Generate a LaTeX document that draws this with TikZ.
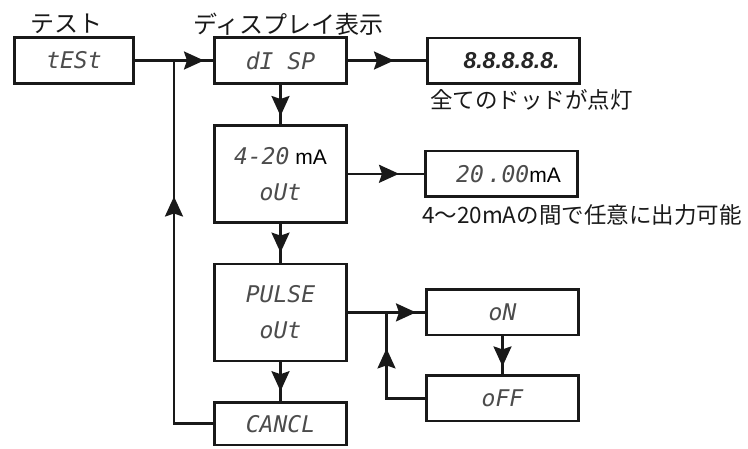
\documentclass[tikz,border=0pt]{standalone}
\usepackage{fontspec}
\newfontfamily\jpfont{Noto Sans CJK JP}
\newfontfamily\segfont{DejaVu Sans Mono}
\newfontfamily\unitfont{Liberation Sans}
\usetikzlibrary{arrows.meta,positioning,calc}

\newcommand\unitmA{{\unitfont\upshape\fontsize{21}{24}\selectfont\color{black}mA}}

\begin{document}
\begin{tikzpicture}[x=1pt, y=-1pt, node distance=39pt and 78pt,
  box/.style={rectangle, draw=black!90, line width=2.6pt, fill=white, minimum width=132.4pt, minimum height=46.4pt, inner sep=0pt, align=center, text=black!70, font=\segfont\itshape\fontsize{23}{36}\selectfont},
  wide/.style={minimum width=152.4pt, minimum height=45.4pt},
  tall/.style={minimum height=97pt},
  jptext/.style={inner sep=0pt, text=black!90, font=\jpfont\fontsize{22.5}{26}\selectfont},
  conn/.style={draw=black!90, line width=2.5pt},
  head/.style={draw=black!90, line width=2.5pt, -{Stealth[length=20pt, width=18pt, inset=3pt]}}]

  \useasboundingbox (0,0) rectangle (748,448);

  % Top row: test, display, all segments
  \node [box, minimum width=119.4pt] (test) at (74,60.5) {tESt};
  \node [box, right=of test] (disp) {dI SP};
  \node [box, wide, right=of disp] (full) {\hspace*{16pt}{\unitfont\bfseries\fontsize{23}{24}\selectfont\color{black!85}8.8.8.8.8.}};

  % Middle column
  \node [box, tall, below=of disp] (cur) {4-20\hspace{6pt}\unitmA\\oUt};
  \node [box, wide, right=76pt of cur] (cval) {\hspace*{14pt}20\,.00\unitmA};
  \node [box, tall, below=of cur] (pulse) {PULSE\\oUt};
  \node [box, wide, right=77pt of pulse] (on) {oN};
  \node [box, wide, below=38pt of on] (off) {oFF};
  \node [box, minimum height=42.4pt, below=of pulse] (cancl) {CANCL};

  % Captions
  \node [jptext, anchor=base west, font=\jpfont\fontsize{24}{26}\selectfont] (testcap) at ([xshift=17pt, yshift=4pt]test.north west) {テスト};
  \node [jptext, anchor=base west, font=\jpfont\fontsize{24}{26}\selectfont] (dispcap) at ([xshift=-20pt, yshift=3pt]disp.north west) {ディスプレイ表示};
  \node [jptext, anchor=base west] (fullcap) at ([xshift=4pt, yshift=-24pt]full.south west) {全てのドッドが点灯};
  \node [jptext, anchor=base west] (cvalcap) at ([xshift=-2pt, yshift=-26pt]cval.south west) {4〜20mAの間で任意に出力可能};

  % Junctions
  \coordinate (jl) at ($(test.east)!0.5!(disp.west)$);
  \coordinate (jp) at ($(pulse.east)!0.5!(on.west)$);

  % Connectors
  \path [conn] (test) -- (disp);
  \path [conn] (disp) -- (full);
  \path [conn] (disp) -- (cur);
  \path [conn] (cur) -- (cval);
  \path [conn] (cur) -- (pulse);
  \path [conn] (pulse) -- (cancl);
  \path [conn] (pulse) -- (on);
  \path [conn] (on) -- (off);
  \path [conn] (off.west) -| (jp);
  \path [conn] (cancl.west) -| (jl);

  % Arrow heads
  \path [head] ([xshift=-30pt]disp.west) -- ([xshift=-9pt]disp.west);
  \path [head] ([xshift=-52pt]full.west) -- ([xshift=-32pt]full.west);
  \path [head] ([yshift=28pt]cur.north) -- ([yshift=8pt]cur.north);
  \path [head] ([xshift=-45pt]cval.west) -- ([xshift=-25pt]cval.west);
  \path [head] ([yshift=30pt]pulse.north) -- ([yshift=10pt]pulse.north);
  \path [head] ([yshift=30pt]cancl.north) -- ([yshift=10pt]cancl.north);
  \path [head] ([xshift=-29pt]on.west) -- ([xshift=-9pt]on.west);
  \path [head] ([yshift=28pt]off.north) -- ([yshift=8pt]off.north);
  \path [head] ([yshift=-56pt]jp) -- ([yshift=-36pt]jp);
  \path [head] ([yshift=-156pt]jl) -- ([yshift=-136pt]jl);
\end{tikzpicture}
\end{document}
